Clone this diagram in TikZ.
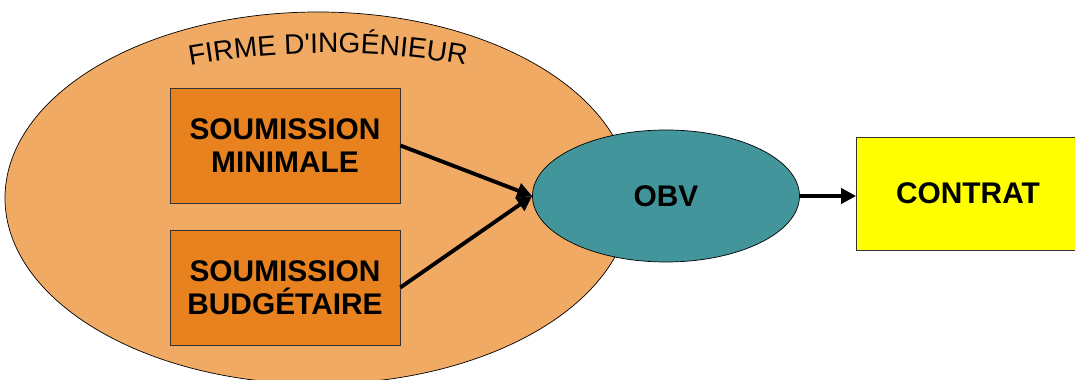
\documentclass[tikz,border=0pt]{standalone}
\usepackage{fontspec}
\setmainfont{Liberation Sans}
\newfontfamily\titrefont{Liberation Sans}
\usetikzlibrary{arrows.meta, positioning, shapes.geometric, decorations.text}

\definecolor{peche}{RGB}{240,170,100}
\definecolor{orangefonce}{RGB}{232,130,30}
\definecolor{sarcelle}{RGB}{66,150,155}
\definecolor{jaune}{RGB}{255,255,0}

\tikzset{
  boite/.style={draw=black!80, fill=orangefonce, minimum width=4.6cm, minimum height=2.3cm,
    align=center, font=\fontsize{17}{19}\selectfont\bfseries},
  fleche/.style={->, line width=2.2pt}
}

\begin{document}
\begin{tikzpicture}[>={Triangle[length=3mm,width=3mm]}]
\useasboundingbox (0,0) rectangle (21.5,7.6);
% firme d'ingenieur
\node[ellipse, draw, fill=peche, minimum width=12.52cm, minimum height=7.44cm, inner sep=0pt] (firme) at (6.36,3.64) {};
\path[decorate, decoration={text along path, text align=center,
  text={|\titrefont\fontsize{16}{18}\selectfont|FIRME D'INGÉNIEUR}}]
  (3.94,6.32) arc[start angle=99.6, end angle=80.4, radius=15.7];
% soumissions
\node[boite] (mini) at (5.70,4.69) {SOUMISSION\\MINIMALE};
\node[boite] (budget) at (5.70,1.85) {SOUMISSION\\BUDGÉTAIRE};
% OBV et contrat
\node[ellipse, draw, fill=sarcelle, minimum width=5.34cm, minimum height=2.64cm, inner sep=0pt,
  font=\fontsize{17}{19}\selectfont\bfseries] (obv) at (13.32,3.68) {OBV};
\node[draw=black!80, fill=jaune, minimum width=4.46cm, minimum height=2.26cm,
  font=\fontsize{17}{19}\selectfont\bfseries] (contrat) at (19.36,3.73) {CONTRAT};
% fleches
\draw[fleche] (mini.east) -- (obv.west);
\draw[fleche] (budget.east) -- (obv.west);
\draw[fleche] (obv.east) -- (obv.east -| contrat.west);
\end{tikzpicture}
\end{document}
